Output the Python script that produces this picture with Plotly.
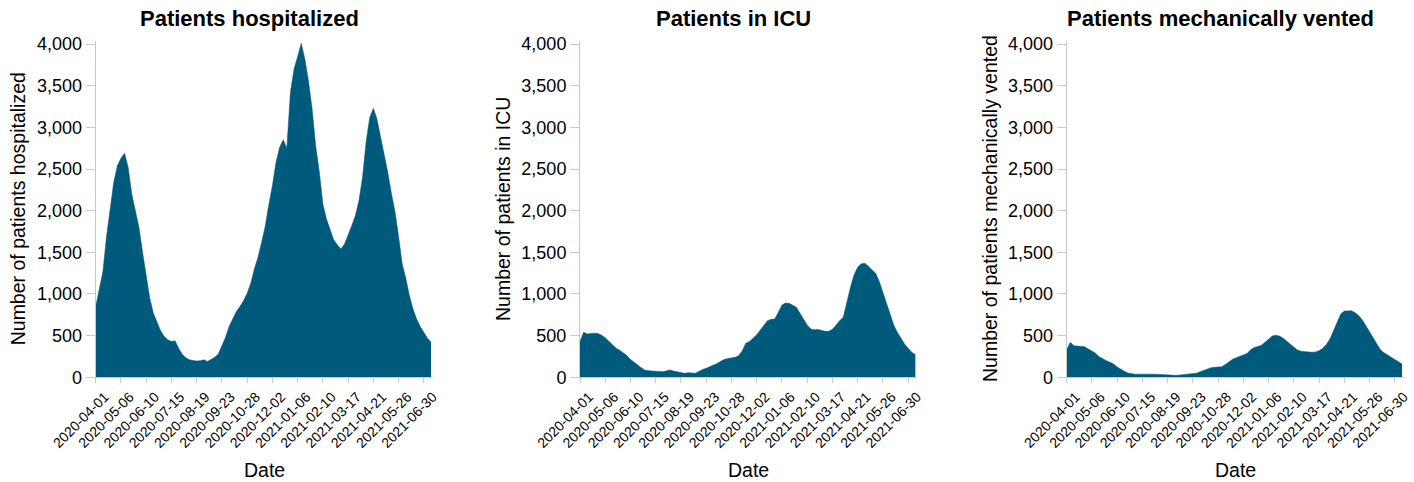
import plotly.graph_objects as go
import pandas as pd

# ---- data (sampled every 5 days from the reference) ----
start_date = "2020-04-01"
n_points = 94
dates = pd.date_range(start_date, periods=n_points, freq="5D")

hospitalized = [
    850, 1060, 1270, 1690, 2050, 2340, 2540, 2630, 2690, 2520,
    2200, 1980, 1800, 1500, 1210, 950, 770, 670, 560, 490,
    450, 430, 440, 350, 276, 235, 210, 202, 196, 200,
    210, 190, 215, 240, 280, 380, 480, 610, 710, 790,
    850, 920, 1010, 1130, 1300, 1440, 1620, 1810, 2070, 2300,
    2580, 2760, 2850, 2750, 3420, 3700, 3850, 4010, 3820, 3560,
    3230, 2780, 2470, 2080, 1900, 1760, 1650, 1590, 1540, 1600,
    1700, 1820, 1940, 2120, 2400, 2830, 3120, 3230, 3100, 2900,
    2680, 2460, 2210, 1990, 1690, 1360, 1190, 980, 820, 700,
    610, 540, 470, 420,
]
icu = [
    430, 540, 520, 528, 530, 525, 505, 475, 435, 390,
    350, 325, 295, 262, 215, 178, 145, 115, 86, 78,
    75, 72, 70, 68, 78, 88, 75, 65, 52, 48,
    56, 52, 50, 70, 95, 108, 125, 140, 165, 192,
    215, 225, 230, 240, 260, 320, 410, 430, 470, 510,
    568, 625, 680, 696, 700, 780, 868, 892, 888, 865,
    840, 770, 690, 628, 580, 572, 574, 562, 552, 552,
    576, 625, 680, 720, 910, 1080, 1230, 1320, 1362, 1370,
    1330, 1290, 1248, 1150, 1030, 890, 760, 628, 540, 470,
    400, 350, 300, 270,
]
vented = [
    330, 420, 378, 375, 370, 368, 340, 320, 290, 248,
    222, 200, 182, 160, 125, 95, 72, 52, 40, 36,
    38, 40, 40, 40, 37, 36, 32, 28, 24, 24,
    24, 26, 28, 34, 40, 45, 50, 66, 85, 105,
    115, 120, 125, 128, 155, 185, 216, 235, 250, 262,
    285, 330, 358, 370, 385, 420, 460, 496, 505, 495,
    470, 435, 390, 355, 328, 312, 306, 304, 300, 305,
    320, 348, 395, 460, 560, 650, 760, 795, 800, 798,
    775, 740, 688, 615, 540, 470, 395, 330, 295, 268,
    240, 212, 185, 160,
]

titles = ["Patients hospitalized", "Patients in ICU", "Patients mechanically vented"]
y_titles = ["Number of patients hospitalized", "Number of patients in ICU",
            "Number of patients mechanically vented"]
x_title = "Date"
y_ticks = [0, 500, 1000, 1500, 2000, 2500, 3000, 3500, 4000]
series = [hospitalized, icu, vented]

# ---- layout geometry (page pixels) ----
W, H = 1414, 482
plot_left = [95.7, 580.0, 1066.7]
plot_w = 336.8
plot_top, plot_bottom = 40.7, 377.3
ytitle_x = [18.3, 503.0, 990.0]

FILL = "#005a7c"
AXIS = "#c8c8c8"
FONT = "Liberation Sans, Arial, sans-serif"

def px(x):
    return x / W

def py(y):
    return 1 - y / H

fig = go.Figure()
layout = dict(
    width=W, height=H,
    margin=dict(l=0, r=0, t=0, b=0, autoexpand=False),
    paper_bgcolor="white", plot_bgcolor="white",
    showlegend=False,
    font=dict(family=FONT, color="black"),
)
annotations = []
for i, vals in enumerate(series):
    xa = "x" if i == 0 else f"x{i+1}"
    ya = "y" if i == 0 else f"y{i+1}"
    fig.add_trace(go.Scatter(
        x=dates, y=vals, xaxis=xa, yaxis=ya, mode="lines",
        line=dict(color=FILL, width=0.5), fill="tozeroy", fillcolor=FILL,
        hoverinfo="x+y",
    ))
    key = "" if i == 0 else str(i + 1)
    layout[f"xaxis{key}"] = dict(
        domain=[px(plot_left[i]), px(plot_left[i] + plot_w)],
        anchor=ya,
        type="date",
        range=["2020-04-01", "2021-07-12"],
        tick0="2020-04-01", dtick=35 * 86400000,
        tickformat="%Y-%m-%d", tickangle=-45,
        ticklabelshift=9,
        showline=True, linecolor=AXIS, linewidth=1,
        ticks="outside", ticklen=5, tickcolor=AXIS,
        showgrid=False, zeroline=False, automargin=False,
        tickfont=dict(family=FONT, size=14, color="black"),
    )
    layout[f"yaxis{key}"] = dict(
        domain=[py(plot_bottom), py(plot_top)],
        anchor=xa,
        range=[0, 4040],
        tickvals=y_ticks, tickformat=",",
        showline=True, linecolor=AXIS, linewidth=1,
        ticks="outside", ticklen=9, tickcolor=AXIS,
        showgrid=False, zeroline=False, automargin=False,
        tickfont=dict(family=FONT, size=18, color="black"),
    )
    cx = plot_left[i] + plot_w / 2
    annotations.append(dict(
        text=f"<b>{titles[i]}</b>", x=px(cx - 15), y=py(18.3),
        xref="paper", yref="paper", showarrow=False,
        xanchor="center", yanchor="middle",
        font=dict(family=FONT, size=22, color="black"),
    ))
    annotations.append(dict(
        text=y_titles[i], x=px(ytitle_x[i]), y=py((plot_top + plot_bottom) / 2),
        xref="paper", yref="paper", showarrow=False, textangle=-90,
        xanchor="center", yanchor="middle",
        font=dict(family=FONT, size=19.5, color="black"),
    ))
    annotations.append(dict(
        text=x_title, x=px(cx), y=py(470),
        xref="paper", yref="paper", showarrow=False,
        xanchor="center", yanchor="middle",
        font=dict(family=FONT, size=19.5, color="black"),
    ))

layout["annotations"] = annotations
fig.update_layout(**layout)
fig.write_html(
    "out.html",
    config={"displayModeBar": False},
    post_script="document.body.style.margin='0';document.body.style.padding='0';",
)
